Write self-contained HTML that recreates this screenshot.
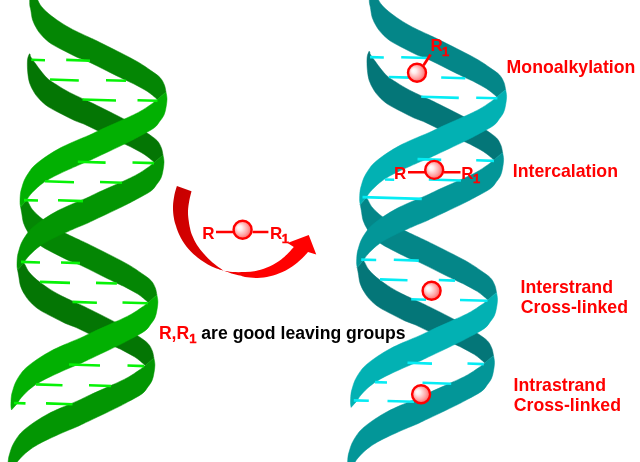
<!DOCTYPE html>
<html><head><meta charset="utf-8"><title>DNA alkylation</title>
<style>html,body{margin:0;padding:0;background:#fff}body{width:640px;height:462px;overflow:hidden;font-family:"Liberation Sans",sans-serif}svg{display:block;will-change:transform;opacity:0.999}</style>
</head><body>
<svg width="640" height="462" viewBox="0 0 640 462">
<defs>
<radialGradient id="sg" cx="0.5" cy="0.5" r="0.62" fx="0.28" fy="0.36">
<stop offset="0" stop-color="#ffffff"/><stop offset="0.22" stop-color="#ffeeee"/><stop offset="0.6" stop-color="#ffa4a4"/><stop offset="1" stop-color="#ff3a3a"/>
</radialGradient>
<linearGradient id="ag" gradientUnits="userSpaceOnUse" x1="180" y1="190" x2="300" y2="260">
<stop offset="0" stop-color="#c80000"/><stop offset="0.45" stop-color="#e00000"/><stop offset="0.8" stop-color="#ff0000"/>
</linearGradient>
</defs>
<g><path d="M33.0 -9.0C33.5 -8.0 35.3 -4.2 36.0 -2.9C36.7 -1.6 36.3 -2.5 37.2 -1.0C38.1 0.5 39.3 3.8 41.2 6.2C43.2 8.7 45.6 11.1 48.8 13.8C51.9 16.4 56.0 19.4 60.0 22.0C64.0 24.6 67.6 26.8 72.5 29.4C77.4 32.0 85.8 35.7 89.6 37.5C93.3 39.3 89.9 37.5 95.0 40.0C100.1 42.5 112.7 48.8 120.0 52.5C127.3 56.2 133.7 59.5 138.8 62.5C143.8 65.5 147.0 67.8 150.5 70.3C154.0 72.8 157.7 75.0 160.0 77.5C162.3 80.0 163.4 82.6 164.4 85.0C165.4 87.4 165.7 90.8 166.0 92.0L157.3 99.5C156.5 98.8 154.2 96.7 152.5 95.3C150.8 93.9 148.9 92.5 147.0 91.2C145.1 90.0 143.2 89.0 141.0 87.8C138.8 86.6 136.5 85.2 134.0 84.0C131.5 82.8 130.4 82.4 126.0 80.3C121.6 78.2 113.7 74.3 107.5 71.2C101.3 68.1 93.8 64.2 88.8 61.9C83.8 59.6 81.5 59.3 77.5 57.5C73.5 55.7 69.4 53.5 65.0 51.2C60.6 49.0 55.0 46.2 51.2 43.8C47.5 41.2 44.9 38.8 42.5 36.2C40.1 33.8 38.4 31.5 36.8 28.8C35.1 26.0 33.6 23.1 32.6 20.0C31.6 16.9 31.3 12.7 30.8 10.0C30.3 7.3 29.9 7.3 29.7 4.1C29.6 0.9 29.9 -6.8 29.9 -9.0Z" fill="#048604" stroke="#048604" stroke-width="0.5" stroke-linejoin="round"/>
<path d="M29.4 53.8C29.5 53.9 29.8 53.8 30.2 54.6C30.6 55.4 29.4 55.1 32.0 58.8C34.6 62.4 41.6 72.4 45.8 76.8C49.9 81.1 53.0 82.4 57.0 85.0C61.0 87.6 64.6 89.8 69.5 92.4C74.4 95.0 82.8 98.7 86.6 100.5C90.3 102.3 86.9 100.5 92.0 103.0C97.1 105.5 109.7 111.8 117.0 115.5C124.3 119.2 130.7 122.5 135.8 125.5C140.8 128.5 144.0 130.8 147.5 133.3C151.0 135.8 154.7 138.1 157.0 140.5C159.3 142.9 160.4 145.6 161.4 148.0C162.4 150.4 162.7 153.8 163.0 155.0L154.3 162.5C153.5 161.8 151.2 159.7 149.5 158.3C147.8 156.9 145.9 155.4 144.0 154.2C142.1 152.9 140.2 152.0 138.0 150.8C135.8 149.6 133.5 148.2 131.0 147.0C128.5 145.8 127.4 145.4 123.0 143.3C118.6 141.2 110.7 137.3 104.5 134.2C98.3 131.1 90.8 127.2 85.8 124.9C80.8 122.6 78.5 122.3 74.5 120.5C70.5 118.7 66.4 116.5 62.0 114.2C57.6 112.0 52.0 109.2 48.2 106.8C44.5 104.2 41.9 101.8 39.5 99.2C37.1 96.8 35.4 94.5 33.8 91.8C32.1 89.0 30.6 86.1 29.6 83.0C28.6 79.9 28.2 76.8 27.8 73.0C27.4 69.2 27.2 63.2 27.5 60.0C27.8 56.8 29.1 54.8 29.4 53.8Z" fill="#047604" stroke="#047604" stroke-width="0.5" stroke-linejoin="round"/>
<path d="M26.9 200.0C27.1 200.3 27.2 200.4 28.1 201.9C29.0 203.4 30.2 206.7 32.1 209.2C34.1 211.6 36.5 214.0 39.6 216.7C42.8 219.3 46.9 222.3 50.9 224.9C54.9 227.5 58.5 229.7 63.4 232.3C68.3 234.9 76.8 238.6 80.5 240.4C84.2 242.2 80.8 240.4 85.9 242.9C91.0 245.4 103.6 251.7 110.9 255.4C118.2 259.1 124.6 262.4 129.7 265.4C134.7 268.4 137.9 270.7 141.4 273.2C144.9 275.7 148.6 277.9 150.9 280.4C153.2 282.8 154.3 285.5 155.3 287.9C156.3 290.3 156.6 293.7 156.9 294.9L148.2 302.4C147.4 301.7 145.1 299.6 143.4 298.2C141.7 296.8 139.8 295.4 137.9 294.1C136.0 292.9 134.1 291.9 131.9 290.7C129.7 289.5 127.4 288.1 124.9 286.9C122.4 285.6 121.3 285.3 116.9 283.2C112.5 281.1 104.6 277.2 98.4 274.1C92.2 271.0 84.7 267.1 79.7 264.8C74.7 262.5 72.4 262.2 68.4 260.4C64.4 258.6 60.3 256.4 55.9 254.2C51.5 251.9 45.9 249.2 42.1 246.7C38.4 244.2 35.8 241.7 33.4 239.2C31.0 236.7 29.3 234.4 27.7 231.7C26.0 228.9 24.5 226.0 23.5 222.9C22.5 219.8 22.2 215.6 21.7 212.9C21.2 210.2 20.8 208.0 20.6 207.0Z" fill="#048604" stroke="#048604" stroke-width="0.5" stroke-linejoin="round"/>
<path d="M23.9 263.0C24.1 263.3 24.2 263.4 25.1 264.9C26.0 266.4 27.2 269.7 29.1 272.1C31.1 274.6 33.5 277.0 36.6 279.6C39.8 282.3 43.9 285.3 47.9 287.9C51.9 290.5 55.5 292.7 60.4 295.3C65.3 297.9 73.8 301.6 77.5 303.4C81.2 305.2 77.8 303.4 82.9 305.9C88.0 308.4 100.6 314.6 107.9 318.4C115.2 322.1 121.6 325.4 126.7 328.4C131.7 331.4 134.9 333.7 138.4 336.2C141.9 338.7 145.6 340.9 147.9 343.4C150.2 345.8 151.3 348.5 152.3 350.9C153.3 353.3 153.6 356.7 153.9 357.9L145.2 365.4C144.4 364.7 142.1 362.6 140.4 361.2C138.7 359.8 136.8 358.3 134.9 357.1C133.0 355.8 131.1 354.9 128.9 353.7C126.7 352.5 124.4 351.1 121.9 349.9C119.4 348.6 118.3 348.3 113.9 346.2C109.5 344.1 101.6 340.2 95.4 337.1C89.2 334.0 81.7 330.1 76.7 327.8C71.7 325.5 69.4 325.2 65.4 323.4C61.4 321.6 57.3 319.4 52.9 317.1C48.5 314.9 42.9 312.1 39.1 309.6C35.4 307.1 32.8 304.6 30.4 302.1C28.0 299.6 26.3 297.4 24.7 294.6C23.0 291.9 21.5 289.0 20.5 285.9C19.5 282.8 19.2 278.5 18.7 275.9C18.2 273.2 17.8 271.0 17.6 270.0Z" fill="#047604" stroke="#047604" stroke-width="0.5" stroke-linejoin="round"/>
<path d="M157.3 99.5C156.2 100.3 153.9 102.4 151.0 104.4C148.1 106.4 144.3 109.1 140.0 111.5C135.7 113.9 131.7 115.7 125.0 118.8C118.3 121.8 105.9 127.3 100.0 130.0C94.1 132.7 94.2 133.0 89.6 135.0C85.0 137.0 77.4 140.0 72.5 142.2C67.6 144.4 64.2 145.9 60.0 148.1C55.8 150.3 51.7 152.8 47.5 155.6C43.3 158.4 38.1 162.2 35.0 165.0C31.9 167.8 30.5 170.0 28.8 172.5C27.0 175.0 25.6 177.5 24.4 180.0C23.2 182.5 22.5 185.4 21.8 187.8C21.1 190.1 20.7 191.5 20.4 194.0C20.1 196.5 20.0 200.3 20.0 202.5C20.0 204.7 20.5 206.2 20.6 207.0L26.9 200.0C27.2 199.4 28.0 197.9 28.9 196.6C29.8 195.3 31.1 193.8 32.5 192.3C33.9 190.8 35.8 189.0 37.5 187.4C39.2 185.8 40.9 184.5 43.0 183.0C45.1 181.5 47.2 180.2 50.0 178.6C52.8 177.0 55.4 175.7 60.0 173.5C64.6 171.3 72.6 167.8 77.5 165.6C82.4 163.4 86.7 161.9 89.6 160.6C92.5 159.3 89.1 160.8 95.0 158.0C100.9 155.2 117.6 147.4 125.0 143.8C132.4 140.1 134.8 138.9 139.6 136.2C144.4 133.6 150.6 130.5 154.0 128.0C157.4 125.5 158.3 123.2 160.0 121.0C161.7 118.8 163.0 117.2 164.0 115.0C165.0 112.8 165.5 110.2 166.0 107.5C166.5 104.8 167.0 101.6 167.0 99.0C167.0 96.4 166.2 93.2 166.0 92.0Z" fill="#02b002" stroke="#02b002" stroke-width="0.5" stroke-linejoin="round"/>
<path d="M154.3 162.5C153.2 163.3 150.9 165.4 148.0 167.4C145.1 169.4 141.3 172.1 137.0 174.5C132.7 176.9 128.7 178.7 122.0 181.8C115.3 184.8 102.9 190.3 97.0 193.0C91.1 195.7 91.2 196.0 86.6 198.0C82.0 200.0 74.4 203.0 69.5 205.2C64.6 207.4 61.2 208.9 57.0 211.1C52.8 213.3 48.7 215.8 44.5 218.6C40.3 221.4 35.1 225.2 32.0 228.0C28.9 230.8 27.5 233.0 25.8 235.5C24.0 238.0 22.6 240.5 21.4 243.0C20.2 245.5 19.5 248.4 18.8 250.8C18.1 253.1 17.7 254.5 17.4 257.0C17.1 259.5 17.0 263.3 17.0 265.5C17.0 267.7 17.5 269.2 17.6 270.0L23.9 263.0C24.2 262.4 25.0 260.9 25.9 259.6C26.8 258.3 28.1 256.8 29.5 255.3C30.9 253.8 32.8 252.0 34.5 250.4C36.2 248.8 37.9 247.5 40.0 246.0C42.1 244.5 44.2 243.2 47.0 241.6C49.8 240.0 52.4 238.7 57.0 236.5C61.6 234.3 69.6 230.8 74.5 228.6C79.4 226.4 83.7 224.9 86.6 223.6C89.5 222.3 86.1 223.8 92.0 221.0C97.9 218.2 114.6 210.4 122.0 206.8C129.4 203.1 131.8 201.9 136.6 199.2C141.4 196.6 147.6 193.5 151.0 191.0C154.4 188.5 155.3 186.2 157.0 184.0C158.7 181.8 160.0 180.2 161.0 178.0C162.0 175.8 162.5 173.2 163.0 170.5C163.5 167.8 164.0 164.6 164.0 162.0C164.0 159.4 163.2 156.2 163.0 155.0Z" fill="#039603" stroke="#039603" stroke-width="0.5" stroke-linejoin="round"/>
<path d="M148.2 302.4C147.2 303.2 144.8 305.3 141.9 307.3C139.0 309.3 135.2 312.0 130.9 314.4C126.6 316.8 122.6 318.6 115.9 321.6C109.2 324.7 96.8 330.2 90.9 332.9C85.0 335.6 85.1 335.9 80.5 337.9C75.9 339.9 68.3 342.9 63.4 345.1C58.5 347.3 55.1 348.8 50.9 351.0C46.7 353.2 42.6 355.7 38.4 358.5C34.2 361.3 29.0 365.1 25.9 367.9C22.8 370.7 21.4 372.9 19.6 375.4C17.9 377.9 16.5 380.4 15.3 382.9C14.1 385.4 13.4 388.3 12.7 390.6C12.0 393.0 11.6 394.4 11.3 396.9C11.0 399.4 10.9 403.2 10.9 405.4C10.9 407.6 11.4 409.1 11.5 409.9L17.8 402.9C18.1 402.3 18.9 400.8 19.8 399.5C20.7 398.2 22.0 396.7 23.4 395.2C24.8 393.7 26.6 391.9 28.4 390.3C30.1 388.8 31.8 387.4 33.9 385.9C36.0 384.4 38.1 383.1 40.9 381.5C43.7 379.9 46.3 378.6 50.9 376.4C55.5 374.2 63.5 370.6 68.4 368.5C73.3 366.4 77.6 364.8 80.5 363.5C83.4 362.2 80.0 363.7 85.9 360.9C91.8 358.1 108.5 350.3 115.9 346.6C123.3 343.0 125.7 341.8 130.5 339.1C135.3 336.5 141.5 333.4 144.9 330.9C148.3 328.4 149.2 326.1 150.9 323.9C152.6 321.7 153.9 320.1 154.9 317.9C155.9 315.6 156.4 313.1 156.9 310.4C157.4 307.7 157.9 304.5 157.9 301.9C157.9 299.3 157.1 296.1 156.9 294.9Z" fill="#02b002" stroke="#02b002" stroke-width="0.5" stroke-linejoin="round"/>
<path d="M145.2 365.4C144.2 366.2 141.8 368.3 138.9 370.3C136.0 372.3 132.2 375.0 127.9 377.4C123.6 379.8 119.6 381.6 112.9 384.6C106.2 387.7 93.8 393.2 87.9 395.9C82.0 398.6 82.1 398.9 77.5 400.9C72.9 402.9 65.3 405.9 60.4 408.1C55.5 410.3 52.1 411.8 47.9 414.0C43.7 416.2 39.6 418.7 35.4 421.5C31.2 424.3 26.0 428.1 22.9 430.9C19.8 433.7 18.4 435.9 16.6 438.4C14.9 440.9 13.5 443.4 12.3 445.9C11.1 448.4 10.4 451.3 9.7 453.6C9.0 456.0 8.6 457.4 8.3 459.9C8.0 462.4 7.9 466.2 7.9 468.4C7.9 470.6 8.4 472.1 8.5 472.9L14.8 465.9C15.1 465.3 15.9 463.8 16.8 462.5C17.7 461.2 19.0 459.7 20.4 458.2C21.8 456.7 23.6 454.8 25.4 453.3C27.1 451.7 28.8 450.4 30.9 448.9C33.0 447.4 35.1 446.1 37.9 444.5C40.7 442.9 43.3 441.6 47.9 439.4C52.5 437.2 60.5 433.6 65.4 431.5C70.3 429.4 74.6 427.8 77.5 426.5C80.4 425.2 77.0 426.7 82.9 423.9C88.8 421.1 105.5 413.3 112.9 409.6C120.3 406.0 122.7 404.8 127.5 402.1C132.3 399.5 138.5 396.4 141.9 393.9C145.3 391.4 146.2 389.1 147.9 386.9C149.6 384.7 150.9 383.1 151.9 380.9C152.9 378.6 153.4 376.1 153.9 373.4C154.4 370.7 154.9 367.5 154.9 364.9C154.9 362.3 154.1 359.1 153.9 357.9Z" fill="#039603" stroke="#039603" stroke-width="0.5" stroke-linejoin="round"/></g>
<path d="M31.2 59.8 L45.0 60.2M66.2 59.9 L90.0 60.7M50.0 79.5 L78.8 80.5M106.0 80.2 L126.0 80.8M82.5 99.5 L116.0 100.5M137.5 100.2 L157.5 100.8M77.8 161.8 L105.6 162.6M132.5 162.5 L154.0 163.1M45.0 181.3 L74.0 182.3M100.0 182.0 L122.0 182.8M24.0 200.1 L38.0 200.5M58.0 200.3 L83.0 201.1M21.0 261.9 L40.0 262.5M61.0 262.5 L80.0 263.1M40.0 281.9 L70.0 282.9M96.0 282.9 L116.9 283.5M72.5 301.9 L96.9 302.7M122.5 302.5 L147.8 303.3M69.0 364.5 L100.0 365.5M127.5 365.5 L144.0 366.1M36.0 384.4 L62.5 385.2M89.0 385.2 L111.0 386.0M14.0 403.0 L25.5 403.4M46.0 403.4 L72.5 404.2" stroke="#06f206" stroke-width="2.6" fill="none"/>
<g transform="translate(339.6,-2.5)"><path d="M33.0 -9.0C33.5 -8.0 35.3 -4.2 36.0 -2.9C36.7 -1.6 36.3 -2.5 37.2 -1.0C38.1 0.5 39.3 3.8 41.2 6.2C43.2 8.7 45.6 11.1 48.8 13.8C51.9 16.4 56.0 19.4 60.0 22.0C64.0 24.6 67.6 26.8 72.5 29.4C77.4 32.0 85.8 35.7 89.6 37.5C93.3 39.3 89.9 37.5 95.0 40.0C100.1 42.5 112.7 48.8 120.0 52.5C127.3 56.2 133.7 59.5 138.8 62.5C143.8 65.5 147.0 67.8 150.5 70.3C154.0 72.8 157.7 75.0 160.0 77.5C162.3 80.0 163.4 82.6 164.4 85.0C165.4 87.4 165.7 90.8 166.0 92.0L157.3 99.5C156.5 98.8 154.2 96.7 152.5 95.3C150.8 93.9 148.9 92.5 147.0 91.2C145.1 90.0 143.2 89.0 141.0 87.8C138.8 86.6 136.5 85.2 134.0 84.0C131.5 82.8 130.4 82.4 126.0 80.3C121.6 78.2 113.7 74.3 107.5 71.2C101.3 68.1 93.8 64.2 88.8 61.9C83.8 59.6 81.5 59.3 77.5 57.5C73.5 55.7 69.4 53.5 65.0 51.2C60.6 49.0 55.0 46.2 51.2 43.8C47.5 41.2 44.9 38.8 42.5 36.2C40.1 33.8 38.4 31.5 36.8 28.8C35.1 26.0 33.6 23.1 32.6 20.0C31.6 16.9 31.3 12.7 30.8 10.0C30.3 7.3 29.9 7.3 29.7 4.1C29.6 0.9 29.9 -6.8 29.9 -9.0Z" fill="#048688" stroke="#048688" stroke-width="0.5" stroke-linejoin="round"/>
<path d="M29.4 53.8C29.5 53.9 29.8 53.8 30.2 54.6C30.6 55.4 29.4 55.1 32.0 58.8C34.6 62.4 41.6 72.4 45.8 76.8C49.9 81.1 53.0 82.4 57.0 85.0C61.0 87.6 64.6 89.8 69.5 92.4C74.4 95.0 82.8 98.7 86.6 100.5C90.3 102.3 86.9 100.5 92.0 103.0C97.1 105.5 109.7 111.8 117.0 115.5C124.3 119.2 130.7 122.5 135.8 125.5C140.8 128.5 144.0 130.8 147.5 133.3C151.0 135.8 154.7 138.1 157.0 140.5C159.3 142.9 160.4 145.6 161.4 148.0C162.4 150.4 162.7 153.8 163.0 155.0L154.3 162.5C153.5 161.8 151.2 159.7 149.5 158.3C147.8 156.9 145.9 155.4 144.0 154.2C142.1 152.9 140.2 152.0 138.0 150.8C135.8 149.6 133.5 148.2 131.0 147.0C128.5 145.8 127.4 145.4 123.0 143.3C118.6 141.2 110.7 137.3 104.5 134.2C98.3 131.1 90.8 127.2 85.8 124.9C80.8 122.6 78.5 122.3 74.5 120.5C70.5 118.7 66.4 116.5 62.0 114.2C57.6 112.0 52.0 109.2 48.2 106.8C44.5 104.2 41.9 101.8 39.5 99.2C37.1 96.8 35.4 94.5 33.8 91.8C32.1 89.0 30.6 86.1 29.6 83.0C28.6 79.9 28.2 76.8 27.8 73.0C27.4 69.2 27.2 63.2 27.5 60.0C27.8 56.8 29.1 54.8 29.4 53.8Z" fill="#047678" stroke="#047678" stroke-width="0.5" stroke-linejoin="round"/>
<path d="M26.9 200.0C27.1 200.3 27.2 200.4 28.1 201.9C29.0 203.4 30.2 206.7 32.1 209.2C34.1 211.6 36.5 214.0 39.6 216.7C42.8 219.3 46.9 222.3 50.9 224.9C54.9 227.5 58.5 229.7 63.4 232.3C68.3 234.9 76.8 238.6 80.5 240.4C84.2 242.2 80.8 240.4 85.9 242.9C91.0 245.4 103.6 251.7 110.9 255.4C118.2 259.1 124.6 262.4 129.7 265.4C134.7 268.4 137.9 270.7 141.4 273.2C144.9 275.7 148.6 277.9 150.9 280.4C153.2 282.8 154.3 285.5 155.3 287.9C156.3 290.3 156.6 293.7 156.9 294.9L148.2 302.4C147.4 301.7 145.1 299.6 143.4 298.2C141.7 296.8 139.8 295.4 137.9 294.1C136.0 292.9 134.1 291.9 131.9 290.7C129.7 289.5 127.4 288.1 124.9 286.9C122.4 285.6 121.3 285.3 116.9 283.2C112.5 281.1 104.6 277.2 98.4 274.1C92.2 271.0 84.7 267.1 79.7 264.8C74.7 262.5 72.4 262.2 68.4 260.4C64.4 258.6 60.3 256.4 55.9 254.2C51.5 251.9 45.9 249.2 42.1 246.7C38.4 244.2 35.8 241.7 33.4 239.2C31.0 236.7 29.3 234.4 27.7 231.7C26.0 228.9 24.5 226.0 23.5 222.9C22.5 219.8 22.2 215.6 21.7 212.9C21.2 210.2 20.8 208.0 20.6 207.0Z" fill="#048688" stroke="#048688" stroke-width="0.5" stroke-linejoin="round"/>
<path d="M23.9 263.0C24.1 263.3 24.2 263.4 25.1 264.9C26.0 266.4 27.2 269.7 29.1 272.1C31.1 274.6 33.5 277.0 36.6 279.6C39.8 282.3 43.9 285.3 47.9 287.9C51.9 290.5 55.5 292.7 60.4 295.3C65.3 297.9 73.8 301.6 77.5 303.4C81.2 305.2 77.8 303.4 82.9 305.9C88.0 308.4 100.6 314.6 107.9 318.4C115.2 322.1 121.6 325.4 126.7 328.4C131.7 331.4 134.9 333.7 138.4 336.2C141.9 338.7 145.6 340.9 147.9 343.4C150.2 345.8 151.3 348.5 152.3 350.9C153.3 353.3 153.6 356.7 153.9 357.9L145.2 365.4C144.4 364.7 142.1 362.6 140.4 361.2C138.7 359.8 136.8 358.3 134.9 357.1C133.0 355.8 131.1 354.9 128.9 353.7C126.7 352.5 124.4 351.1 121.9 349.9C119.4 348.6 118.3 348.3 113.9 346.2C109.5 344.1 101.6 340.2 95.4 337.1C89.2 334.0 81.7 330.1 76.7 327.8C71.7 325.5 69.4 325.2 65.4 323.4C61.4 321.6 57.3 319.4 52.9 317.1C48.5 314.9 42.9 312.1 39.1 309.6C35.4 307.1 32.8 304.6 30.4 302.1C28.0 299.6 26.3 297.4 24.7 294.6C23.0 291.9 21.5 289.0 20.5 285.9C19.5 282.8 19.2 278.5 18.7 275.9C18.2 273.2 17.8 271.0 17.6 270.0Z" fill="#047678" stroke="#047678" stroke-width="0.5" stroke-linejoin="round"/>
<path d="M157.3 99.5C156.2 100.3 153.9 102.4 151.0 104.4C148.1 106.4 144.3 109.1 140.0 111.5C135.7 113.9 131.7 115.7 125.0 118.8C118.3 121.8 105.9 127.3 100.0 130.0C94.1 132.7 94.2 133.0 89.6 135.0C85.0 137.0 77.4 140.0 72.5 142.2C67.6 144.4 64.2 145.9 60.0 148.1C55.8 150.3 51.7 152.8 47.5 155.6C43.3 158.4 38.1 162.2 35.0 165.0C31.9 167.8 30.5 170.0 28.8 172.5C27.0 175.0 25.6 177.5 24.4 180.0C23.2 182.5 22.5 185.4 21.8 187.8C21.1 190.1 20.7 191.5 20.4 194.0C20.1 196.5 20.0 200.3 20.0 202.5C20.0 204.7 20.5 206.2 20.6 207.0L26.9 200.0C27.2 199.4 28.0 197.9 28.9 196.6C29.8 195.3 31.1 193.8 32.5 192.3C33.9 190.8 35.8 189.0 37.5 187.4C39.2 185.8 40.9 184.5 43.0 183.0C45.1 181.5 47.2 180.2 50.0 178.6C52.8 177.0 55.4 175.7 60.0 173.5C64.6 171.3 72.6 167.8 77.5 165.6C82.4 163.4 86.7 161.9 89.6 160.6C92.5 159.3 89.1 160.8 95.0 158.0C100.9 155.2 117.6 147.4 125.0 143.8C132.4 140.1 134.8 138.9 139.6 136.2C144.4 133.6 150.6 130.5 154.0 128.0C157.4 125.5 158.3 123.2 160.0 121.0C161.7 118.8 163.0 117.2 164.0 115.0C165.0 112.8 165.5 110.2 166.0 107.5C166.5 104.8 167.0 101.6 167.0 99.0C167.0 96.4 166.2 93.2 166.0 92.0Z" fill="#02b1b3" stroke="#02b1b3" stroke-width="0.5" stroke-linejoin="round"/>
<path d="M154.3 162.5C153.2 163.3 150.9 165.4 148.0 167.4C145.1 169.4 141.3 172.1 137.0 174.5C132.7 176.9 128.7 178.7 122.0 181.8C115.3 184.8 102.9 190.3 97.0 193.0C91.1 195.7 91.2 196.0 86.6 198.0C82.0 200.0 74.4 203.0 69.5 205.2C64.6 207.4 61.2 208.9 57.0 211.1C52.8 213.3 48.7 215.8 44.5 218.6C40.3 221.4 35.1 225.2 32.0 228.0C28.9 230.8 27.5 233.0 25.8 235.5C24.0 238.0 22.6 240.5 21.4 243.0C20.2 245.5 19.5 248.4 18.8 250.8C18.1 253.1 17.7 254.5 17.4 257.0C17.1 259.5 17.0 263.3 17.0 265.5C17.0 267.7 17.5 269.2 17.6 270.0L23.9 263.0C24.2 262.4 25.0 260.9 25.9 259.6C26.8 258.3 28.1 256.8 29.5 255.3C30.9 253.8 32.8 252.0 34.5 250.4C36.2 248.8 37.9 247.5 40.0 246.0C42.1 244.5 44.2 243.2 47.0 241.6C49.8 240.0 52.4 238.7 57.0 236.5C61.6 234.3 69.6 230.8 74.5 228.6C79.4 226.4 83.7 224.9 86.6 223.6C89.5 222.3 86.1 223.8 92.0 221.0C97.9 218.2 114.6 210.4 122.0 206.8C129.4 203.1 131.8 201.9 136.6 199.2C141.4 196.6 147.6 193.5 151.0 191.0C154.4 188.5 155.3 186.2 157.0 184.0C158.7 181.8 160.0 180.2 161.0 178.0C162.0 175.8 162.5 173.2 163.0 170.5C163.5 167.8 164.0 164.6 164.0 162.0C164.0 159.4 163.2 156.2 163.0 155.0Z" fill="#039698" stroke="#039698" stroke-width="0.5" stroke-linejoin="round"/>
<path d="M148.2 302.4C147.2 303.2 144.8 305.3 141.9 307.3C139.0 309.3 135.2 312.0 130.9 314.4C126.6 316.8 122.6 318.6 115.9 321.6C109.2 324.7 96.8 330.2 90.9 332.9C85.0 335.6 85.1 335.9 80.5 337.9C75.9 339.9 68.3 342.9 63.4 345.1C58.5 347.3 55.1 348.8 50.9 351.0C46.7 353.2 42.6 355.7 38.4 358.5C34.2 361.3 29.0 365.1 25.9 367.9C22.8 370.7 21.4 372.9 19.6 375.4C17.9 377.9 16.5 380.4 15.3 382.9C14.1 385.4 13.4 388.3 12.7 390.6C12.0 393.0 11.6 394.4 11.3 396.9C11.0 399.4 10.9 403.2 10.9 405.4C10.9 407.6 11.4 409.1 11.5 409.9L17.8 402.9C18.1 402.3 18.9 400.8 19.8 399.5C20.7 398.2 22.0 396.7 23.4 395.2C24.8 393.7 26.6 391.9 28.4 390.3C30.1 388.8 31.8 387.4 33.9 385.9C36.0 384.4 38.1 383.1 40.9 381.5C43.7 379.9 46.3 378.6 50.9 376.4C55.5 374.2 63.5 370.6 68.4 368.5C73.3 366.4 77.6 364.8 80.5 363.5C83.4 362.2 80.0 363.7 85.9 360.9C91.8 358.1 108.5 350.3 115.9 346.6C123.3 343.0 125.7 341.8 130.5 339.1C135.3 336.5 141.5 333.4 144.9 330.9C148.3 328.4 149.2 326.1 150.9 323.9C152.6 321.7 153.9 320.1 154.9 317.9C155.9 315.6 156.4 313.1 156.9 310.4C157.4 307.7 157.9 304.5 157.9 301.9C157.9 299.3 157.1 296.1 156.9 294.9Z" fill="#02b1b3" stroke="#02b1b3" stroke-width="0.5" stroke-linejoin="round"/>
<path d="M145.2 365.4C144.2 366.2 141.8 368.3 138.9 370.3C136.0 372.3 132.2 375.0 127.9 377.4C123.6 379.8 119.6 381.6 112.9 384.6C106.2 387.7 93.8 393.2 87.9 395.9C82.0 398.6 82.1 398.9 77.5 400.9C72.9 402.9 65.3 405.9 60.4 408.1C55.5 410.3 52.1 411.8 47.9 414.0C43.7 416.2 39.6 418.7 35.4 421.5C31.2 424.3 26.0 428.1 22.9 430.9C19.8 433.7 18.4 435.9 16.6 438.4C14.9 440.9 13.5 443.4 12.3 445.9C11.1 448.4 10.4 451.3 9.7 453.6C9.0 456.0 8.6 457.4 8.3 459.9C8.0 462.4 7.9 466.2 7.9 468.4C7.9 470.6 8.4 472.1 8.5 472.9L14.8 465.9C15.1 465.3 15.9 463.8 16.8 462.5C17.7 461.2 19.0 459.7 20.4 458.2C21.8 456.7 23.6 454.8 25.4 453.3C27.1 451.7 28.8 450.4 30.9 448.9C33.0 447.4 35.1 446.1 37.9 444.5C40.7 442.9 43.3 441.6 47.9 439.4C52.5 437.2 60.5 433.6 65.4 431.5C70.3 429.4 74.6 427.8 77.5 426.5C80.4 425.2 77.0 426.7 82.9 423.9C88.8 421.1 105.5 413.3 112.9 409.6C120.3 406.0 122.7 404.8 127.5 402.1C132.3 399.5 138.5 396.4 141.9 393.9C145.3 391.4 146.2 389.1 147.9 386.9C149.6 384.7 150.9 383.1 151.9 380.9C152.9 378.6 153.4 376.1 153.9 373.4C154.4 370.7 154.9 367.5 154.9 364.9C154.9 362.3 154.1 359.1 153.9 357.9Z" fill="#039698" stroke="#039698" stroke-width="0.5" stroke-linejoin="round"/></g>
<path d="M370.0 57.1 L383.8 57.5M401.2 57.2 L427.5 58.0M388.8 77.0 L410.0 77.6M441.2 77.5 L465.3 78.3M421.2 96.7 L458.8 97.9M476.2 97.7 L497.4 98.3M417.5 159.1 L441.2 159.9M476.2 160.3 L494.0 160.9M385.0 179.5 L394.2 179.7M428.8 179.5 L461.0 180.5M362.5 197.1 L421.8 198.9M361.2 259.6 L376.2 260.0M393.8 259.8 L418.8 260.6M380.0 279.4 L407.5 280.2M438.8 280.0 L455.0 280.6M411.2 299.3 L426.0 299.7M460.0 300.0 L487.5 300.8M407.5 362.8 L432.0 363.6M467.5 363.5 L483.8 364.1M375.0 382.1 L387.0 382.5M422.5 382.7 L451.2 383.7M353.8 400.4 L368.8 400.8M387.5 401.0 L414.0 401.8" stroke="#06ecf4" stroke-width="2.6" fill="none"/>
<path d="M176.9 186.0C176.5 187.5 175.1 191.6 174.4 195.0C173.8 198.4 173.1 202.5 173.0 206.2C172.9 210.0 173.2 214.2 173.8 217.5C174.2 220.8 175.1 223.1 176.0 226.0C176.9 228.9 177.7 231.6 179.4 235.0C181.1 238.4 183.2 242.5 186.2 246.2C189.3 250.0 193.3 254.2 197.5 257.5C201.7 260.8 206.9 264.0 211.2 266.2C215.6 268.5 221.7 270.0 223.8 270.8C221.9 269.4 215.8 265.3 212.5 262.5C209.2 259.7 206.3 256.7 203.8 253.8C201.2 250.8 199.0 248.1 197.0 245.0C195.0 241.9 193.2 237.8 192.0 235.0C190.8 232.2 190.5 230.3 190.0 228.0C189.5 225.7 189.1 224.0 188.8 221.2C188.4 218.5 187.9 214.8 188.0 211.2C188.1 207.7 188.8 203.3 189.4 200.0C190.0 196.7 191.2 192.7 191.5 191.2Z M223.8 270.8C225.2 271.0 229.0 271.8 232.5 272.0C236.0 272.2 240.8 272.2 245.0 272.0C249.2 271.8 253.3 271.6 257.5 270.6C261.7 269.6 266.0 268.1 270.0 266.2C274.0 264.4 278.1 261.7 281.2 259.4C284.4 257.1 286.7 254.6 288.8 252.5C290.8 250.4 292.9 247.9 293.8 247.0L287.5 243 L308.75 235 L316.25 254.4 L308 252C307.1 253.0 304.7 255.9 302.5 258.0C300.3 260.1 298.3 262.1 295.0 264.4C291.7 266.7 286.7 270.0 282.5 272.0C278.3 274.0 274.2 275.2 270.0 276.2C265.8 277.2 261.7 277.9 257.5 278.0C253.3 278.1 247.9 277.4 245.0 277.0C242.1 276.6 242.1 276.1 240.0 275.6C237.9 275.1 235.2 274.6 232.5 273.8C229.8 272.9 225.2 271.3 223.8 270.8Z" fill="url(#ag)"/>
<path d="M216 232H233M252.5 232H268.4M408 172.3H425M444 172.3H460.5" stroke="#ff0000" stroke-width="2.4" fill="none"/>
<path d="M423.6 65.2L430.6 54.4" stroke="#ff0000" stroke-width="2.7" fill="none"/>
<circle cx="242.6" cy="229.7" r="9" fill="url(#sg)" stroke="#ff0000" stroke-width="2.4"/>
<circle cx="417.0" cy="72.8" r="9" fill="url(#sg)" stroke="#ff0000" stroke-width="2.4"/>
<circle cx="434.2" cy="169.9" r="9" fill="url(#sg)" stroke="#ff0000" stroke-width="2.4"/>
<circle cx="431.6" cy="290.7" r="9" fill="url(#sg)" stroke="#ff0000" stroke-width="2.4"/>
<circle cx="421.1" cy="394.2" r="9" fill="url(#sg)" stroke="#ff0000" stroke-width="2.4"/>
<g font-family="Liberation Sans, sans-serif" font-weight="bold">
<text x="202.2" y="238.5" font-size="17" fill="#ff0000" >R</text>
<text x="269.9" y="238.5" font-size="17" fill="#ff0000" >R<tspan font-size="13" dy="4.3" dx="-0.5" stroke="#ff0000" stroke-width="0.4">1</tspan></text>
<text x="394.1" y="178.8" font-size="17" fill="#ff0000" >R</text>
<text x="461.2" y="178.7" font-size="17" fill="#ff0000" >R<tspan font-size="13" dy="4.3" dx="-0.5" stroke="#ff0000" stroke-width="0.4">1</tspan></text>
<text x="430.4" y="51.4" font-size="17" fill="#ff0000" >R<tspan font-size="13" dy="4.4" dx="-0.6" stroke="#ff0000" stroke-width="0.4">1</tspan></text>
<text x="158.9" y="338.8" font-size="17.6" fill="#ff0000" >R,R<tspan font-size="13" dy="3.8" stroke="#ff0000" stroke-width="0.4">1</tspan><tspan dy="-3.8" fill="#000000" stroke="none"> are good leaving groups</tspan></text>
<text x="506.6" y="73.3" font-size="17.7" fill="#ff0000" >Monoalkylation</text>
<text x="512.8" y="176.9" font-size="17.7" fill="#ff0000" >Intercalation</text>
<text x="520.6" y="292.6" font-size="17.7" fill="#ff0000" >Interstrand</text>
<text x="520.8" y="313.2" font-size="17.7" fill="#ff0000" >Cross-linked</text>
<text x="513.6" y="390.8" font-size="17.7" fill="#ff0000" >Intrastrand</text>
<text x="513.8" y="411.4" font-size="17.7" fill="#ff0000" >Cross-linked</text>
</g>
</svg>
</body></html>
